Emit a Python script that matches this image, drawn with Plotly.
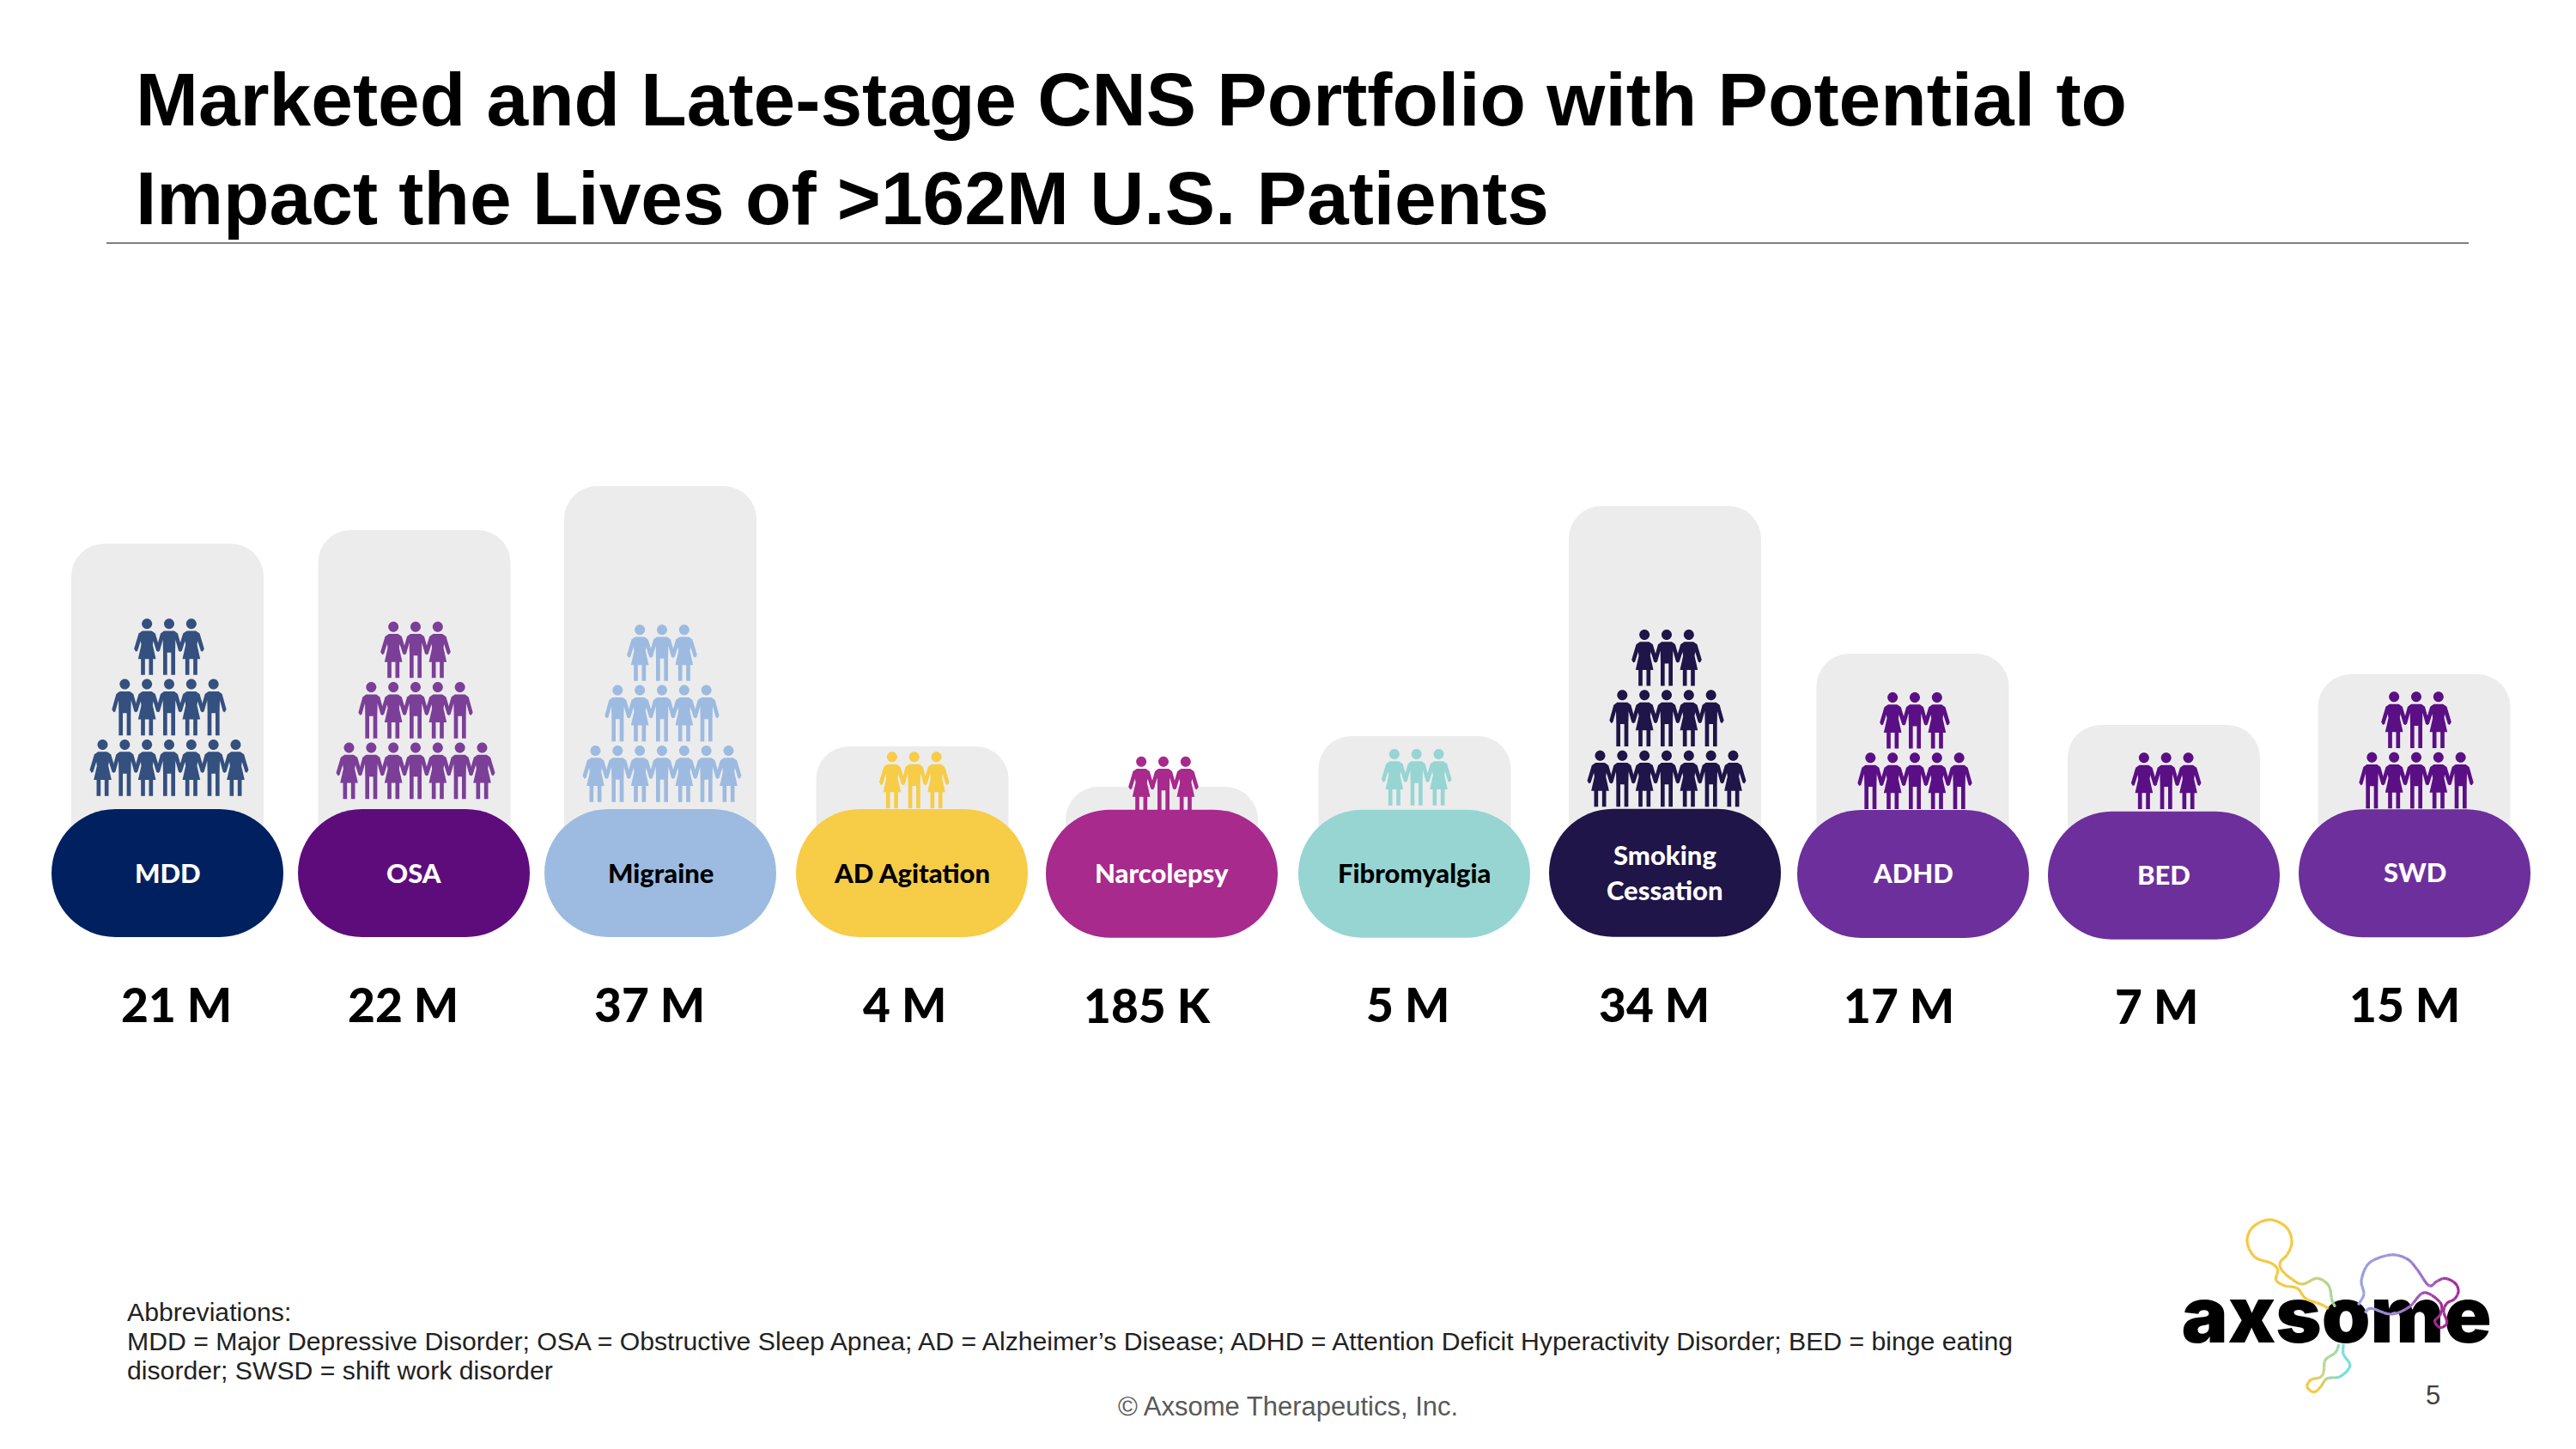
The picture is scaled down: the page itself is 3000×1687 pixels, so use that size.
import numpy as np
import plotly.graph_objects as go

# ---------- data ----------
categories = ["MDD", "OSA", "Migraine", "AD Agitation", "Narcolepsy", "Fibromyalgia",
              "Smoking<br>Cessation", "ADHD", "BED", "SWD"]
patient_labels = ["21 M", "22 M", "37 M", "4 M", "185 K", "5 M", "34 M", "17 M", "7 M", "15 M"]
card_heights = [387, 403, 454, 151, 104, 163, 431, 259, 176, 235]
people_rows = [[3, 5, 7], [3, 5, 7], [3, 5, 7], [3], [3], [3], [3, 5, 7], [3, 5], [3], [3, 5]]
title_lines = ["Marketed and Late-stage CNS Portfolio with Potential to",
               "Impact the Lives of >162M U.S. Patients"]
note_lines = ["Abbreviations:",
              "MDD = Major Depressive Disorder; OSA = Obstructive Sleep Apnea; AD = Alzheimer’s Disease; ADHD = Attention Deficit Hyperactivity Disorder; BED = binge eating",
              "disorder; SWSD = shift work disorder"]

# ---------- layout and style ----------
W, H = 3000, 1687
CARD_BASE = 1020
card_x = [195, 482.5, 769, 1062.5, 1353, 1647.5, 1939, 2227.5, 2520, 2811.5]
pill_x = [195, 482, 769, 1062, 1353, 1647, 1939, 2228, 2520, 2812]
pill_top = [942, 942, 942, 942, 942.7, 942.7, 941.7, 943, 944.7, 942.3]
PILL_W, PILL_H = 270, 149
people_x = [197, 484, 771, 1064.7, 1355, 1649.7, 1941, 2230, 2522.7, 2814]
people_base = [861, 864.5, 868, 875.3, 880.7, 872, 873.7, 876.3, 876.3, 875.7]
PERSON_DX, ROW_DY = 25.83, 70.4
pill_colors = ["#002060", "#5E0C7C", "#9DBBE0", "#F7CC46", "#A72A8C", "#97D5D3",
               "#1F1548", "#6D2F9C", "#6D2F9C", "#6D2F9C"]
people_colors = ["#34507F", "#7B3F98", "#9DBBE0", "#F7CC46", "#A72A8C", "#97D5D3",
                 "#1F1548", "#5B0F85", "#5B0F85", "#5B0F85"]
pill_text_colors = ["white", "white", "black", "black", "white", "black", "white", "white", "white", "white"]
pill_text_y = [1016, 1016, 1016, 1016, 1016, 1016, 1015, 1016, 1018, 1015]
value_x = [205, 469.5, 756, 1053, 1335.5, 1639, 1926, 2211, 2511, 2800]
value_y = [1169, 1169, 1169, 1169, 1170, 1169, 1169, 1170.3, 1171, 1169]

shapes, annotations = [], []


def text(x, y, s, size, color="black", family="Liberation Sans", weight=400, xanchor="center"):
    annotations.append(dict(x=x, y=y, xref="x", yref="y", text=s, showarrow=False,
                            xanchor=xanchor, yanchor="middle", align=xanchor,
                            font=dict(family=family, size=size, color=color, weight=weight)))


def pill_path(cx, top):
    r = PILL_H / 2
    k = 0.5523 * r
    l, rt, b = cx - PILL_W / 2, cx + PILL_W / 2, top + PILL_H
    return (f"M{l + r},{top} L{rt - r},{top} "
            f"C{rt - r + k},{top} {rt},{top + r - k} {rt},{top + r} "
            f"C{rt},{top + r + k} {rt - r + k},{b} {rt - r},{b} "
            f"L{l + r},{b} "
            f"C{l + r - k},{b} {l},{top + r + k} {l},{top + r} "
            f"C{l},{top + r - k} {l + r - k},{top} {l + r},{top} Z")


HALF_MAN = [(18, 43), (30, 52), (45, 106), (39, 116), (33, 113), (22, 74), (21, 119), (21, 197), (7, 197), (7, 119)]
HALF_WOMAN = [(16, 43), (29, 52), (45, 106), (39, 116), (33, 113), (22, 78), (20, 92), (31, 141), (21, 141),
              (21, 197), (7, 197), (7, 141)]


def person_path(cx, top, woman):
    half = HALF_WOMAN if woman else HALF_MAN
    pts = half + [(-a, b) for a, b in reversed(half)]
    body = " ".join(("M" if i == 0 else "L") + f"{cx + a / 3:.2f},{top + b / 3:.2f}" for i, (a, b) in enumerate(pts))
    r, cy, k = 6.0, top + 6.0, 3.31
    head = (f"M{cx - r:.2f},{cy:.2f} C{cx - r:.2f},{cy - k:.2f} {cx - k:.2f},{cy - r:.2f} {cx:.2f},{cy - r:.2f} "
            f"C{cx + k:.2f},{cy - r:.2f} {cx + r:.2f},{cy - k:.2f} {cx + r:.2f},{cy:.2f} "
            f"C{cx + r:.2f},{cy + k:.2f} {cx + k:.2f},{cy + r:.2f} {cx:.2f},{cy + r:.2f} "
            f"C{cx - k:.2f},{cy + r:.2f} {cx - r:.2f},{cy + k:.2f} {cx - r:.2f},{cy:.2f} Z")
    return body + " Z " + head


def catmull(pts, n=14):
    p = np.array(pts, float)
    p = np.vstack([2 * p[0] - p[1], p, 2 * p[-1] - p[-2]])
    out = []
    for i in range(1, len(p) - 2):
        for t in np.linspace(0, 1, n, endpoint=False):
            out.append(0.5 * ((2 * p[i]) + (-p[i - 1] + p[i + 1]) * t
                              + (2 * p[i - 1] - 5 * p[i] + 4 * p[i + 1] - p[i + 2]) * t ** 2
                              + (-p[i - 1] + 3 * p[i] - 3 * p[i + 1] + p[i + 2]) * t ** 3))
    out.append(p[-2])
    return np.array(out)


def hex_rgb(c):
    return np.array([int(c[i:i + 2], 16) for i in (1, 3, 5)], float)


def logo_curve(zoom_pts, stops, chunks=36):
    pts = [(2400 + a / 2.613, 1380 + b / 3) for a, b in zoom_pts]
    d = catmull(pts)
    idx = np.linspace(0, len(d) - 1, chunks + 1).astype(int)
    fr = [s[0] for s in stops]
    cols = np.array([hex_rgb(s[1]) for s in stops])
    for a, b in zip(idx[:-1], idx[1:]):
        f = (a + b) / 2 / (len(d) - 1)
        rgb = [np.interp(f, fr, cols[:, j]) for j in range(3)]
        path = " ".join(("M" if i == 0 else "L") + f"{x:.2f},{y:.2f}" for i, (x, y) in enumerate(d[a:b + 1]))
        shapes.append(dict(type="path", path=path, xref="x", yref="y", layer="above",
                           line=dict(width=3.2, color="rgb(%d,%d,%d)" % tuple(rgb))))


fig = go.Figure()
fig.add_trace(go.Bar(x=card_x, y=[-h for h in card_heights], base=CARD_BASE, width=224,
                     marker=dict(color="#ECECEC", line=dict(width=0), cornerradius=38),
                     hovertext=patient_labels, hoverinfo="text", showlegend=False))
fig.add_trace(go.Scatter(x=[2721], y=[1540], mode="text", text=["axsome"], showlegend=False, hoverinfo="skip",
                         textfont=dict(family="Inter", size=91, color="black", weight=900)))

for i, cat in enumerate(categories):
    shapes.append(dict(type="path", path=pill_path(pill_x[i], pill_top[i]), xref="x", yref="y", layer="above",
                       fillcolor=pill_colors[i], line=dict(width=0)))
    rows = people_rows[i]
    for r, count in enumerate(rows):
        top = people_base[i] - (len(rows) - 1 - r) * ROW_DY
        for p in range(count):
            off = p - (count - 1) / 2
            woman = int(abs(off)) % 2 == 1
            shapes.append(dict(type="path", path=person_path(people_x[i] + off * PERSON_DX, top, woman),
                               xref="x", yref="y", layer="above", fillcolor=people_colors[i], line=dict(width=0)))
    if "<br>" in cat:
        a, b = cat.split("<br>")
        text(pill_x[i], 995, a, 31, pill_text_colors[i], "Lato", 900)
        text(pill_x[i], 1036, b, 31, pill_text_colors[i], "Lato", 900)
    else:
        text(pill_x[i], pill_text_y[i], cat, 31, pill_text_colors[i], "Lato", 900)
    text(value_x[i], value_y[i], patient_labels[i], 55, "black", "Lato", 900)

# title, rule, notes
text(156, 116, title_lines[0], 87.5, "black", weight=700, xanchor="left")
text(156, 231, title_lines[1], 87.5, "black", weight=700, xanchor="left")
shapes.append(dict(type="line", x0=124, x1=2875, y0=283, y1=283, xref="x", yref="y", layer="above",
                   line=dict(color="#808080", width=2)))
for y, s in zip([1527, 1561, 1595], note_lines):
    text(146, y, s, 30.2, "#222222", xanchor="left")
text(1500, 1637, "© Axsome Therapeutics, Inc.", 31, "#595959")
text(2833, 1624, "5", 31, "#404040")

# logo curves
logo_curve([(835, 425), (825, 400), (815, 350), (780, 325), (735, 345), (700, 325), (672, 295), (668, 268), (690, 240),
            (703, 195), (685, 145), (635, 120), (585, 145), (567, 195), (590, 250), (640, 272), (660, 295), (655, 330),
            (680, 350), (720, 360), (745, 395), (790, 415), (815, 430)],
           [(0, "#9FD79A"), (0.12, "#B5D68A"), (0.22, "#F5C842"), (1, "#F5C842")])
logo_curve([(847, 555), (835, 585), (805, 610), (800, 650), (790, 670), (760, 680), (750, 705), (770, 722), (790, 705),
            (810, 675), (850, 668), (880, 630), (860, 590), (860, 555)],
           [(0, "#8FDCB0"), (0.25, "#C5D98A"), (0.4, "#F5C842"), (0.6, "#F5C842"), (0.78, "#78E0D8"), (1, "#7DDDE0")], 24)
logo_curve([(905, 418), (922, 380), (915, 330), (940, 270), (1005, 243), (1055, 258), (1085, 295), (1120, 350),
            (1145, 335), (1170, 325), (1200, 342), (1210, 370), (1198, 397), (1175, 412), (1165, 440), (1175, 480),
            (1155, 497), (1138, 475), (1155, 450), (1155, 410), (1105, 375), (1060, 425), (1005, 450), (945, 430),
            (925, 445)],
           [(0, "#9AA9E0"), (0.18, "#9D95DA"), (0.3, "#A060C0"), (0.42, "#A42A96"), (0.78, "#A42A96"), (0.9, "#9D7FD0"),
            (1, "#9AA9E0")], 44)

fig.update_layout(
    width=W, height=H, margin=dict(l=0, r=0, t=0, b=0), showlegend=False,
    paper_bgcolor="white", plot_bgcolor="white",
    xaxis=dict(range=[0, W], visible=False, fixedrange=True),
    yaxis=dict(range=[H, 0], visible=False, fixedrange=True),
    shapes=shapes, annotations=annotations,
)
fig.write_html("out.html", config=dict(displayModeBar=False),
               post_script="document.body.style.margin='0';document.body.style.overflow='hidden';")
